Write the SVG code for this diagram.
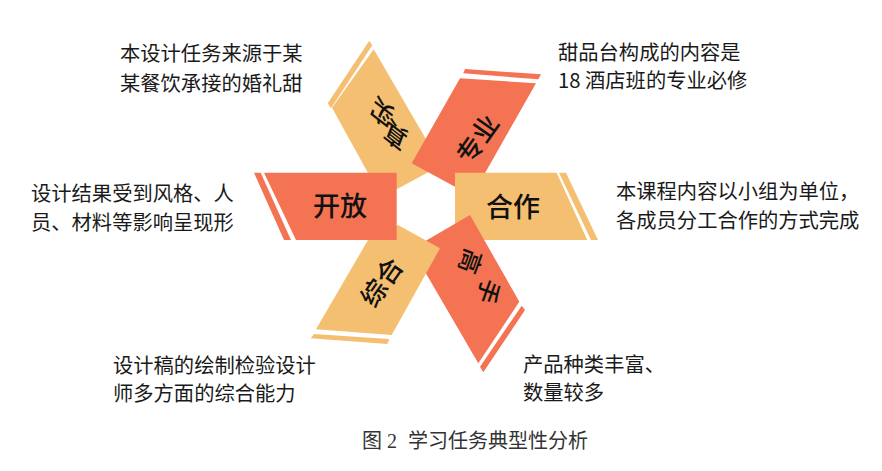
<svg xmlns="http://www.w3.org/2000/svg" width="882" height="471" viewBox="0 0 882 471">
<style>
text{font-family:"Noto Sans CJK SC","Noto Sans",sans-serif;fill:#1a1a1a}
.d{font-size:20.3px}
.l{font-size:27px;fill:#111;text-anchor:middle;dominant-baseline:central;font-weight:500}
.m{font-size:26px}
.s{font-size:24px}
.o{fill:#f5bf72}
.r{fill:#f37352}
.c{font-family:"Liberation Serif","Noto Sans CJK SC",serif;font-size:20px;fill:#333}
</style>
<rect width="882" height="471" fill="#fff"/>
<g id="node-zhenshi">
<polygon class="o" points="373.7,49.3 441,165 425,174 396.7,189.3 368,173 332,107.7"/>
<polygon class="o" points="369.3,40.7 372.3,45.3 331,108.3 327.7,103.3"/>
<text class="l m" transform="matrix(-.788 -.616 .358 -.934 395 137)">真</text>
<text class="l m" transform="matrix(-.788 -.616 .358 -.934 381.7 114)">实</text>
</g>
<g id="node-zhuanye">
<polygon class="r" points="460,78.3 536,83.3 472,196 411.7,163.3"/>
<polygon class="r" points="465,69 541,74.3 538.3,79.3 463.3,73.3"/>
<text class="l m" transform="translate(476,138) rotate(-55)">专业</text>
</g>
<g id="node-hezuo">
<polygon class="o" points="455,172.7 556.7,172.7 587.3,240 483,240 455,225"/>
<polygon class="o" points="559,172.7 566,172.7 598,240 591,240"/>
<text class="l" x="513" y="205">合作</text>
</g>
<g id="node-gaoshou">
<polygon class="r" points="470,215 519.3,301.7 478.3,363.3 411.7,249"/>
<polygon class="r" points="521.7,305.7 525,310 483.3,372.3 480,366.7"/>
<text class="l s" transform="translate(472,262) rotate(110)">高</text>
<text class="l s" transform="translate(490,292) rotate(110)">手</text>
</g>
<g id="node-zonghe">
<polygon class="o" points="398,225 440,248.3 391.7,335 316,329.3 368,240"/>
<polygon class="o" points="314,334 389.3,339 387.3,344 310.7,338.3"/>
<text class="l m" transform="translate(380,281) rotate(-55)">综合</text>
</g>
<g id="node-kaifang">
<polygon class="r" points="264,172.7 396.7,172.7 396.7,240 296,240"/>
<polygon class="r" points="254,172.7 260.7,172.7 291,240 284,240"/>
<text class="l" x="340" y="204">开放</text>
</g>
<g id="labels">
<text class="d" x="120" y="61">本设计任务来源于某</text>
<text class="d" x="120" y="91">某餐饮承接的婚礼甜</text>
<text class="d" x="558" y="60">甜品台构成的内容是</text>
<text class="d" x="558" y="88">18 酒店班的专业必修</text>
<text class="d" x="31" y="201">设计结果受到风格、人</text>
<text class="d" x="31" y="230">员、材料等影响呈现形</text>
<text class="d" x="616" y="199">本课程内容以小组为单位，</text>
<text class="d" x="616" y="228">各成员分工合作的方式完成</text>
<text class="d" x="113" y="373">设计稿的绘制检验设计</text>
<text class="d" x="113" y="401">师多方面的综合能力</text>
<text class="d" x="523" y="372">产品种类丰富、</text>
<text class="d" x="523" y="400">数量较多</text>
<text class="c" y="448"><tspan x="362">图</tspan><tspan x="387">2</tspan><tspan x="408">学习任务典型性分析</tspan></text>
</g>
</svg>
